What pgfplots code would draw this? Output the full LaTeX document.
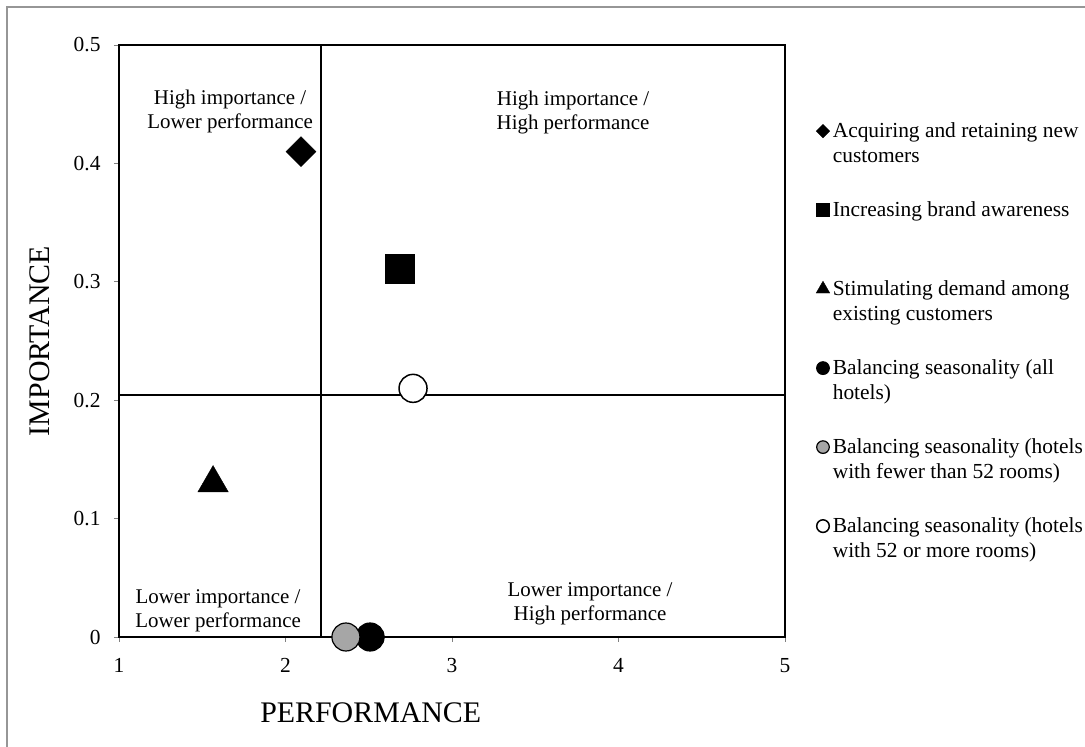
\documentclass[border=0pt]{standalone}
\usepackage{fontspec}
\setmainfont{Liberation Serif}
\usepackage{pgfplots}
\pgfplotsset{compat=1.18}
\definecolor{midgray}{RGB}{166,166,166}
\definecolor{framegray}{RGB}{150,150,150}
\newcommand{\lgtext}[1]{\parbox[t]{250bp}{#1}}
\begin{document}
\begin{tikzpicture}[x=1bp,y=1bp]
\begin{axis}[
    scale only axis, width=666bp, height=592bp,
    xmin=1, xmax=5, ymin=0, ymax=0.5,
    clip=false,
    xtick={1,2,3,4,5}, xticklabels={1,2,3,4,5},
    ytick={0,0.1,0.2,0.3,0.4,0.5}, yticklabels={0,0.1,0.2,0.3,0.4,0.5},
    xtick pos=bottom, ytick pos=left,
    /pgf/number format/assume math mode=true,
    tick align=outside, major tick length=5bp,
    tick style={gray, line width=0.8bp},
    axis line style={line width=1.4bp},
    tick label style={font=\fontsize{21.5}{25}\selectfont},
    yticklabel style={xshift=-10bp},
    xticklabel style={yshift=-13bp},
    xlabel={PERFORMANCE}, ylabel={IMPORTANCE},
    label style={font=\fontsize{30}{34}\selectfont},
    xlabel style={at={(axis description cs:0.378,-0.1284)}, anchor=center},
    ylabel style={at={(axis description cs:-0.1186,0.5)}, anchor=center},
    legend style={draw=none, fill=none, inner sep=0pt,
        row sep={79bp,between origins},
        column sep=3bp,
        at={(1.0465,0.869)}, anchor=north west,
        nodes={inner sep=0pt, anchor=base west, font=\fontsize{21.5}{25}\selectfont}},
    lg/.style={legend image code/.code={\draw[##1, yshift=6.5bp, every mark/.append style={scale=0.45}] plot coordinates {(0bp,0bp)};}},
]
\addplot[black, line width=2bp, forget plot] coordinates {(2.213,0) (2.213,0.5)};
\addplot[black, line width=2bp, forget plot] coordinates {(1,0.2045) (5,0.2045)};

\addplot[only marks, mark=square*, mark size=10.6bp, mark options={rotate=45, fill=black, draw=black}, lg]
    coordinates {(2.093,0.410)};
\addlegendentry{\lgtext{Acquiring and retaining new\\customers}}
\addplot[only marks, mark=square*, mark size=14.5bp, mark options={fill=black, draw=black}, lg]
    coordinates {(2.688,0.311)};
\addlegendentry{\lgtext{Increasing brand awareness}}
\addplot[only marks, mark=triangle*, mark size=17.5bp, mark options={fill=black, draw=black}, lg]
    coordinates {(1.565,0.130)};
\addlegendentry{\lgtext{Stimulating demand among\\existing customers}}
\addplot[only marks, mark=*, mark size=14bp, mark options={fill=black, draw=black, line width=1.2bp}, lg]
    coordinates {(2.508,0)};
\addlegendentry{\lgtext{Balancing seasonality (all\\hotels)}}
\addplot[only marks, mark=*, mark size=14bp, mark options={fill=midgray, draw=black, line width=1.2bp}, lg]
    coordinates {(2.363,0)};
\addlegendentry{\lgtext{Balancing seasonality (hotels\\with fewer than 52 rooms)}}
\addplot[only marks, mark=*, mark size=14bp, mark options={fill=white, draw=black, line width=1.5bp}, lg]
    coordinates {(2.766,0.210)};
\addlegendentry{\lgtext{Balancing seasonality (hotels\\with 52 or more rooms)}}

\node[align=center, font=\fontsize{21}{24}\selectfont] at (axis cs:1.667,0.444) {High importance /\\Lower performance};
\node[align=center, font=\fontsize{21}{24}\selectfont] at (axis cs:3.727,0.443) {High importance /\\High performance};
\node[align=center, font=\fontsize{21}{24}\selectfont] at (axis cs:1.595,0.022) {Lower importance /\\Lower performance};
\node[align=center, font=\fontsize{21}{24}\selectfont] at (axis cs:3.829,0.028) {Lower importance /\\High performance};
\end{axis}
\pgfresetboundingbox
\useasboundingbox (-119,-110) rectangle (966,637);
\draw[framegray, line width=2bp] (-112,-300) -- (-112,630) -- (1200,630);
\end{tikzpicture}
\end{document}
